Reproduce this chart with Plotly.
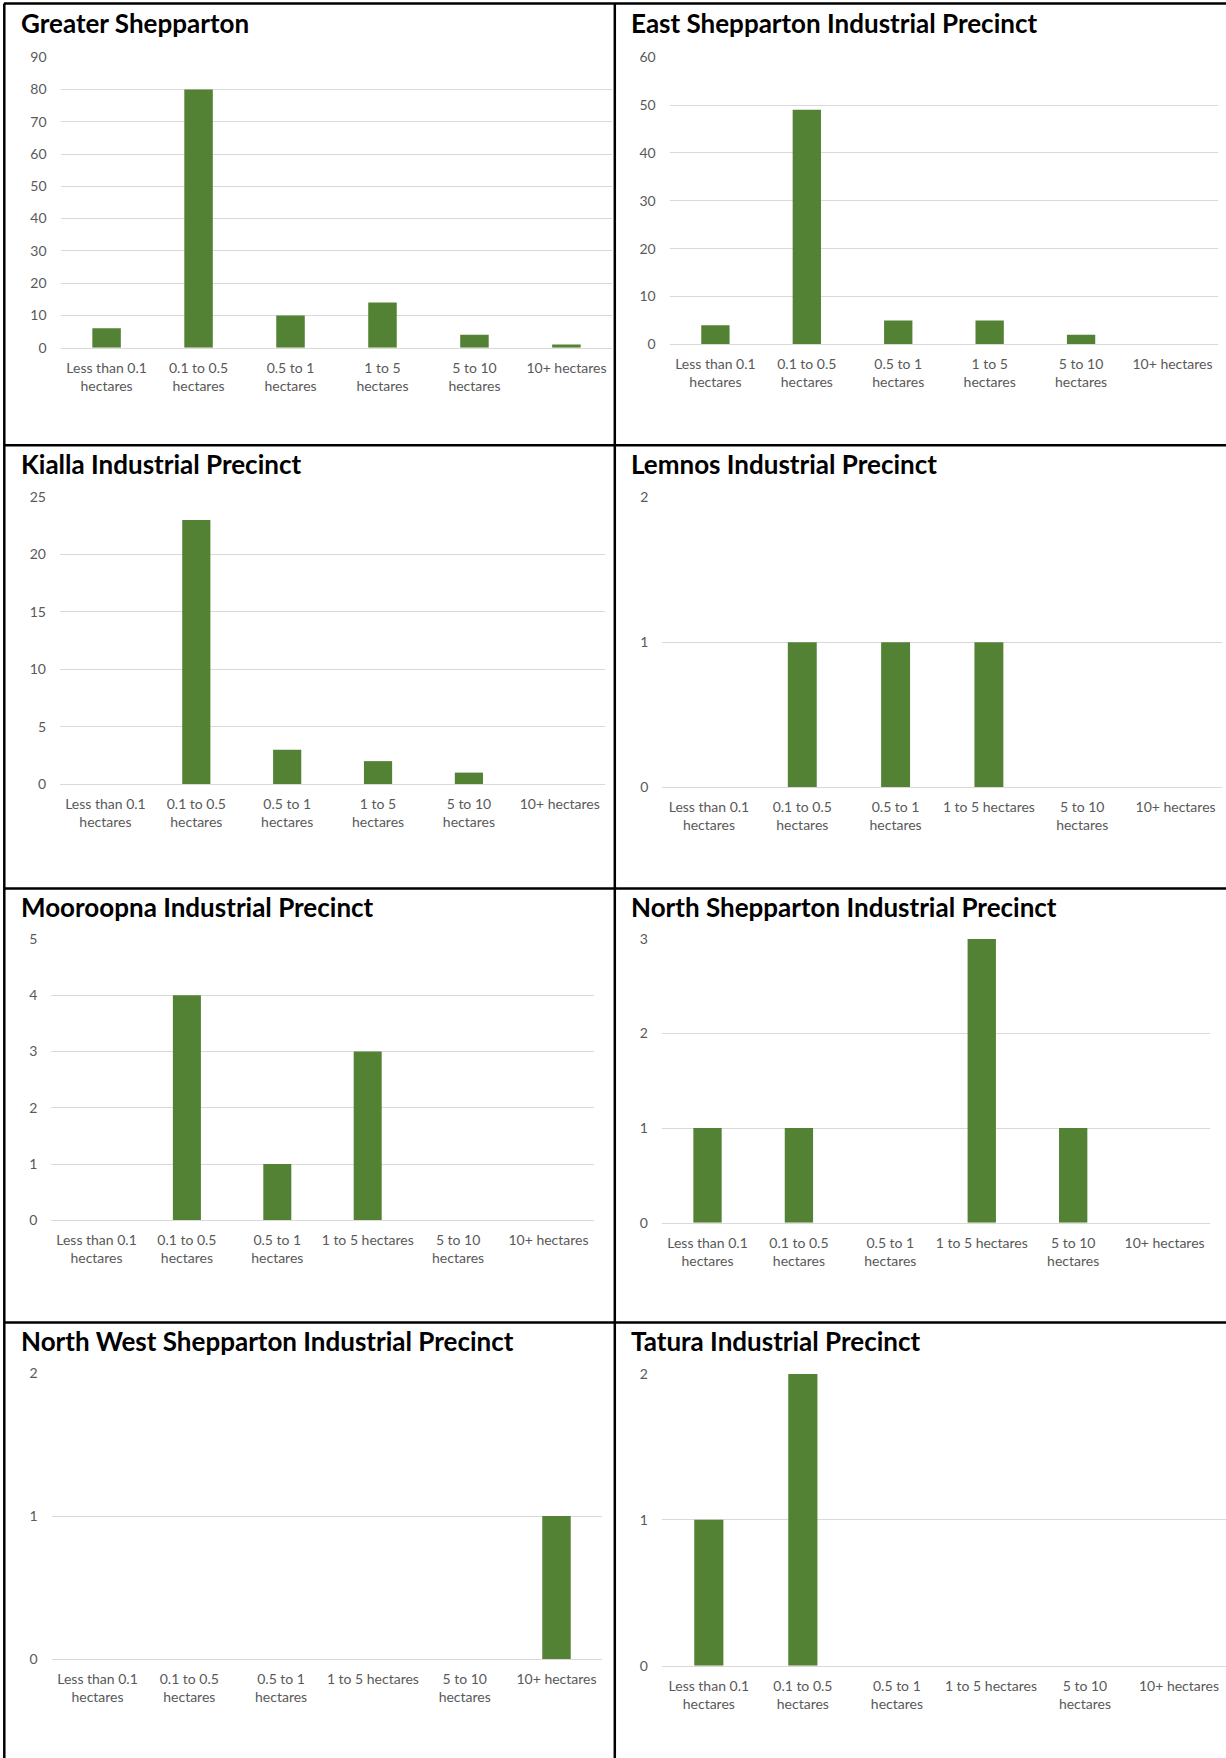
import plotly.graph_objects as go

# ---------------- data ----------------
categories = ["Less than 0.1 hectares", "0.1 to 0.5 hectares", "0.5 to 1 hectares",
              "1 to 5 hectares", "5 to 10 hectares", "10+ hectares"]
labels_wrapped = ["Less than 0.1<br>hectares", "0.1 to 0.5<br>hectares", "0.5 to 1<br>hectares",
                  "1 to 5<br>hectares", "5 to 10<br>hectares", "10+ hectares"]
labels_flat = ["Less than 0.1<br>hectares", "0.1 to 0.5<br>hectares", "0.5 to 1<br>hectares",
               "1 to 5 hectares", "5 to 10<br>hectares", "10+ hectares"]

titles = ["Greater Shepparton", "East Shepparton Industrial Precinct",
          "Kialla Industrial Precinct", "Lemnos Industrial Precinct",
          "Mooroopna Industrial Precinct", "North Shepparton Industrial Precinct",
          "North West Shepparton Industrial Precinct", "Tatura Industrial Precinct"]

greater_shepparton = [6, 80, 10, 14, 4, 1]
east_shepparton = [4, 49, 5, 5, 2, 0]
kialla = [0, 23, 3, 2, 1, 0]
lemnos = [0, 1, 1, 1, 0, 0]
mooroopna = [0, 4, 1, 3, 0, 0]
north_shepparton = [1, 1, 0, 3, 1, 0]
north_west_shepparton = [0, 0, 0, 0, 0, 1]
tatura = [1, 2, 0, 0, 0, 0]

y_max = [90, 60, 25, 2, 5, 3, 2, 2]
y_step = [10, 10, 5, 1, 1, 1, 1, 1]

series = [greater_shepparton, east_shepparton, kialla, lemnos,
          mooroopna, north_shepparton, north_west_shepparton, tatura]
tick_sets = [labels_wrapped, labels_wrapped, labels_wrapped, labels_flat,
             labels_flat, labels_flat, labels_flat, labels_flat]

# ---------------- layout (pixels) ----------------
W, H = 1226, 1758
# plot boxes: x0, x1, ytop, ybottom
boxes = [
    (60.6, 612.4, 57.2, 347.7),
    (669.7, 1218.2, 57.2, 344.4),
    (60.0, 605.2, 496.9, 784.1),
    (662.3, 1222.2, 496.9, 787.4),
    (51.3, 593.7, 938.9, 1220.4),
    (661.8, 1210.3, 938.9, 1222.7),
    (51.6, 602.4, 1373.0, 1659.0),
    (661.8, 1226.0, 1374.0, 1665.7),
]
title_pos = [(19, 23.0), (629, 23.0), (19, 464.0), (629, 464.0),
             (19, 907.0), (629, 907.0), (19, 1341.0), (629, 1341.0)]

BAR = "#548235"
GRID = "#d9d9d9"
TXT = "#595959"
FONT = "Lato"

fig = go.Figure()
layout_axes = {}
for i, (vals, ticks, (x0, x1, yt, yb)) in enumerate(zip(series, tick_sets, boxes)):
    n = i + 1
    xa = "x" if n == 1 else f"x{n}"
    ya = "y" if n == 1 else f"y{n}"
    fig.add_trace(go.Bar(x=categories, y=vals, xaxis=xa, yaxis=ya,
                         marker=dict(color=BAR, line=dict(width=0)),
                         showlegend=False))
    xkey = "xaxis" if n == 1 else f"xaxis{n}"
    ykey = "yaxis" if n == 1 else f"yaxis{n}"
    layout_axes[xkey] = dict(
        domain=[x0 / W, x1 / W], anchor=ya, type="category",
        tickvals=categories, ticktext=ticks, automargin=False,
        showgrid=False, showline=True, linecolor=GRID, linewidth=1,
        ticks="", ticklabelstandoff=7,
        tickfont=dict(family=FONT, size=14, color=TXT),
        fixedrange=True,
    )
    layout_axes[ykey] = dict(
        domain=[1 - yb / H, 1 - yt / H], anchor=xa, automargin=False,
        range=[0, y_max[i]], dtick=y_step[i], tick0=0,
        showgrid=True, gridcolor=GRID, gridwidth=1,
        zeroline=False, showline=False, ticks="",
        ticklabelstandoff=13,
        tickfont=dict(family=FONT, size=14, color=TXT),
        fixedrange=True,
    )

annotations = []
for t, (tx, ty) in zip(titles, title_pos):
    annotations.append(dict(
        text=t, xref="paper", yref="paper", x=tx / W, y=1 - ty / H,
        xanchor="left", yanchor="middle", showarrow=False,
        font=dict(family=FONT, size=26, color="#000000", weight=700),
    ))

shapes = []
LINE = dict(color="#000000", width=2.5)
for py in (3.4, 445.3, 888.6, 1322.5):
    shapes.append(dict(type="line", xref="paper", yref="paper",
                       x0=4 / W, x1=1, y0=1 - py / H, y1=1 - py / H, line=LINE))
for px in (4.3, 614.8):
    shapes.append(dict(type="line", xref="paper", yref="paper",
                       x0=px / W, x1=px / W, y0=0, y1=1 - 3.4 / H, line=LINE))

fig.update_layout(
    template="none",
    width=W, height=H, autosize=False,
    margin=dict(l=0, r=0, t=0, b=0, pad=0),
    paper_bgcolor="#ffffff", plot_bgcolor="#ffffff",
    bargap=0.69,
    annotations=annotations, shapes=shapes,
    **layout_axes,
)

fig.write_html("out.html")
